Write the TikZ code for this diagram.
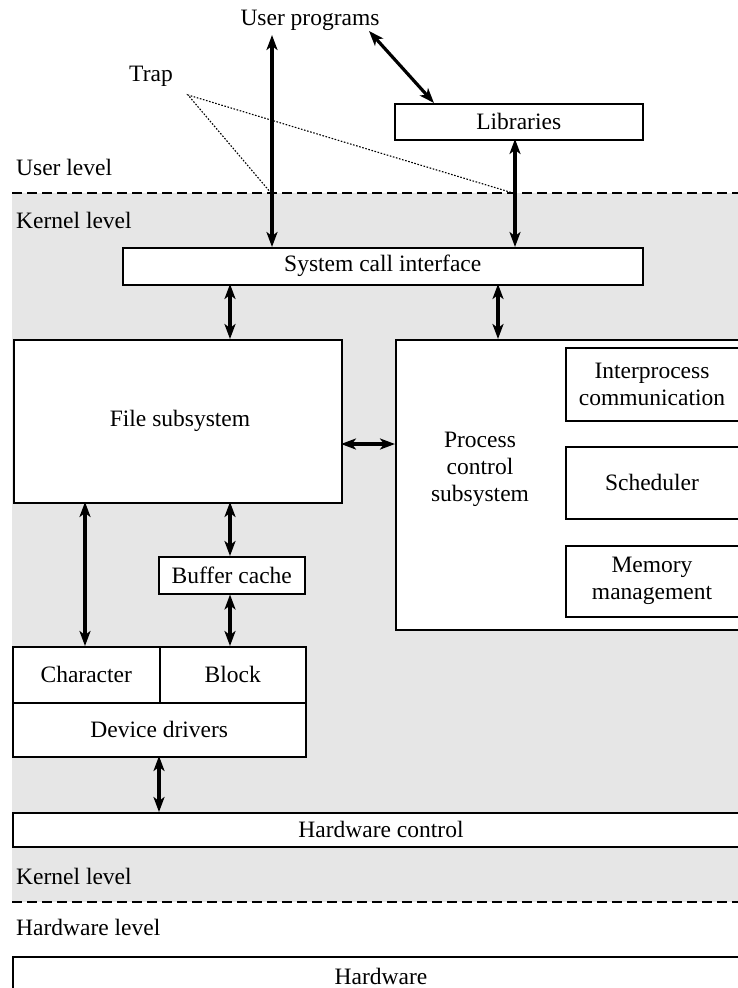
\documentclass[tikz,border=0pt]{standalone}
\usepackage{fontspec}
\setmainfont{Liberation Serif}
\usetikzlibrary{arrows.meta}
\definecolor{kgray}{RGB}{230,230,230}
\begin{document}
\begin{tikzpicture}[x=1pt,y=-1pt,
  box/.style={draw,line width=1.5pt,fill=white,anchor=north west,inner sep=0pt},
  lbl/.style={font=\fontsize{23.5}{27}\selectfont,inner sep=0pt,align=center},
  llbl/.style={font=\fontsize{23.5}{27}\selectfont,inner sep=0pt,anchor=west},
  dar/.style={line width=3.2pt,{Stealth[length=15pt,width=11pt,inset=4pt]}-{Stealth[length=15pt,width=11pt,inset=4pt]}},
  lev/.style={line width=1.4pt,dash pattern=on 10pt off 5pt},
  trapl/.style={line width=1.1pt,dash pattern=on 1.6pt off 1.6pt}]
\useasboundingbox (0,0) rectangle (738,988);
\clip (0,0) rectangle (738,988);
% kernel background
\fill[kgray] (12,193) rectangle (740,902);
\draw[lev] (12,193) -- (740,193);
\draw[lev] (12,902) -- (740,902);
% level labels
\node[llbl] (ul) at (16,167) {User level};
\node[llbl] (kl1) at (16,220) {Kernel level};
\node[llbl] (kl2) at (16,876) {Kernel level};
\node[llbl] (hl) at (16,927) {Hardware level};
% top labels
\node[lbl] (up) at (310,20) {User programs};
\node[lbl] (trap) at (151,76) {Trap};
% boxes
\node[box,minimum width=248pt,minimum height=36pt] (lib) at (394,103) {};
\node[lbl] at (lib.center) {Libraries};
\node[box,minimum width=520pt,minimum height=37pt] (sci) at (122,247) {};
\node[lbl] at (sci.center) {System call interface};
\node[box,minimum width=328pt,minimum height=163pt] (file) at (13,339) {};
\node[lbl] at (180,421) {File subsystem};
\node[box,minimum width=360pt,minimum height=290pt] (proc) at (395,339) {};
\node[lbl] (proct) at (480,469) {Process\\control\\subsystem};
\node[box,minimum width=200pt,minimum height=73pt] (ipc) at (565,347) {};
\node[lbl] at (652,384) {Interprocess\\communication};
\node[box,minimum width=200pt,minimum height=72pt] (sched) at (565,446) {};
\node[lbl] at (652,482) {Scheduler};
\node[box,minimum width=200pt,minimum height=71pt] (mem) at (565,545) {};
\node[lbl] at (652,581) {Memory\\management};
\node[box,minimum width=146pt,minimum height=37pt] (buf) at (158,556) {};
\node[lbl] at (buf.center) {Buffer cache};
\node[box,minimum width=147pt,minimum height=56pt] (chr) at (12,646) {};
\node[lbl] at (chr.center) {Character};
\node[box,minimum width=146pt,minimum height=56pt] (blk) at (159,646) {};
\node[lbl] at (blk.center) {Block};
\node[box,minimum width=293pt,minimum height=54pt] (drv) at (12,702) {};
\node[lbl] at (drv.center) {Device drivers};
\node[box,minimum width=740pt,minimum height=34pt] (hwc) at (12,812) {};
\node[lbl] at (381,829) {Hardware control};
\node[box,minimum width=740pt,minimum height=60pt] (hw) at (12,956) {};
\node[lbl] at (381,976) {Hardware};
% coordinates
\coordinate (upA) at (272,35);
\coordinate (upB) at (369,31);
\coordinate (libA) at (434,103);
\coordinate (libB) at (515,139);
\coordinate (trapA) at (188,95);
\coordinate (t1) at (271,193);
\coordinate (t2) at (513,193);
\coordinate (sciA) at (230,284);
\coordinate (sciB) at (498,284);
\coordinate (fileA) at (85,502);
\coordinate (fileB) at (230,502);
\coordinate (fileC) at (341,444);
\coordinate (drvA) at (159,756);
% trap
\draw[trapl] (t1) -- (trapA) -- (t2);
% arrows
\draw[dar] (upA) -- (upA |- sci.north);
\draw[dar] (upB) -- (libA);
\draw[dar] (libB) -- (libB |- sci.north);
\draw[dar] (sciA) -- (sciA |- file.north);
\draw[dar] (sciB) -- (sciB |- proc.north);
\draw[dar] (fileC) -- (fileC -| proc.west);
\draw[dar] (fileA) -- (fileA |- chr.north);
\draw[dar] (fileB) -- (fileB |- buf.north);
\draw[dar] (fileB |- buf.south) -- (fileB |- blk.north);
\draw[dar] (drvA) -- (drvA |- hwc.north);
\end{tikzpicture}
\end{document}
